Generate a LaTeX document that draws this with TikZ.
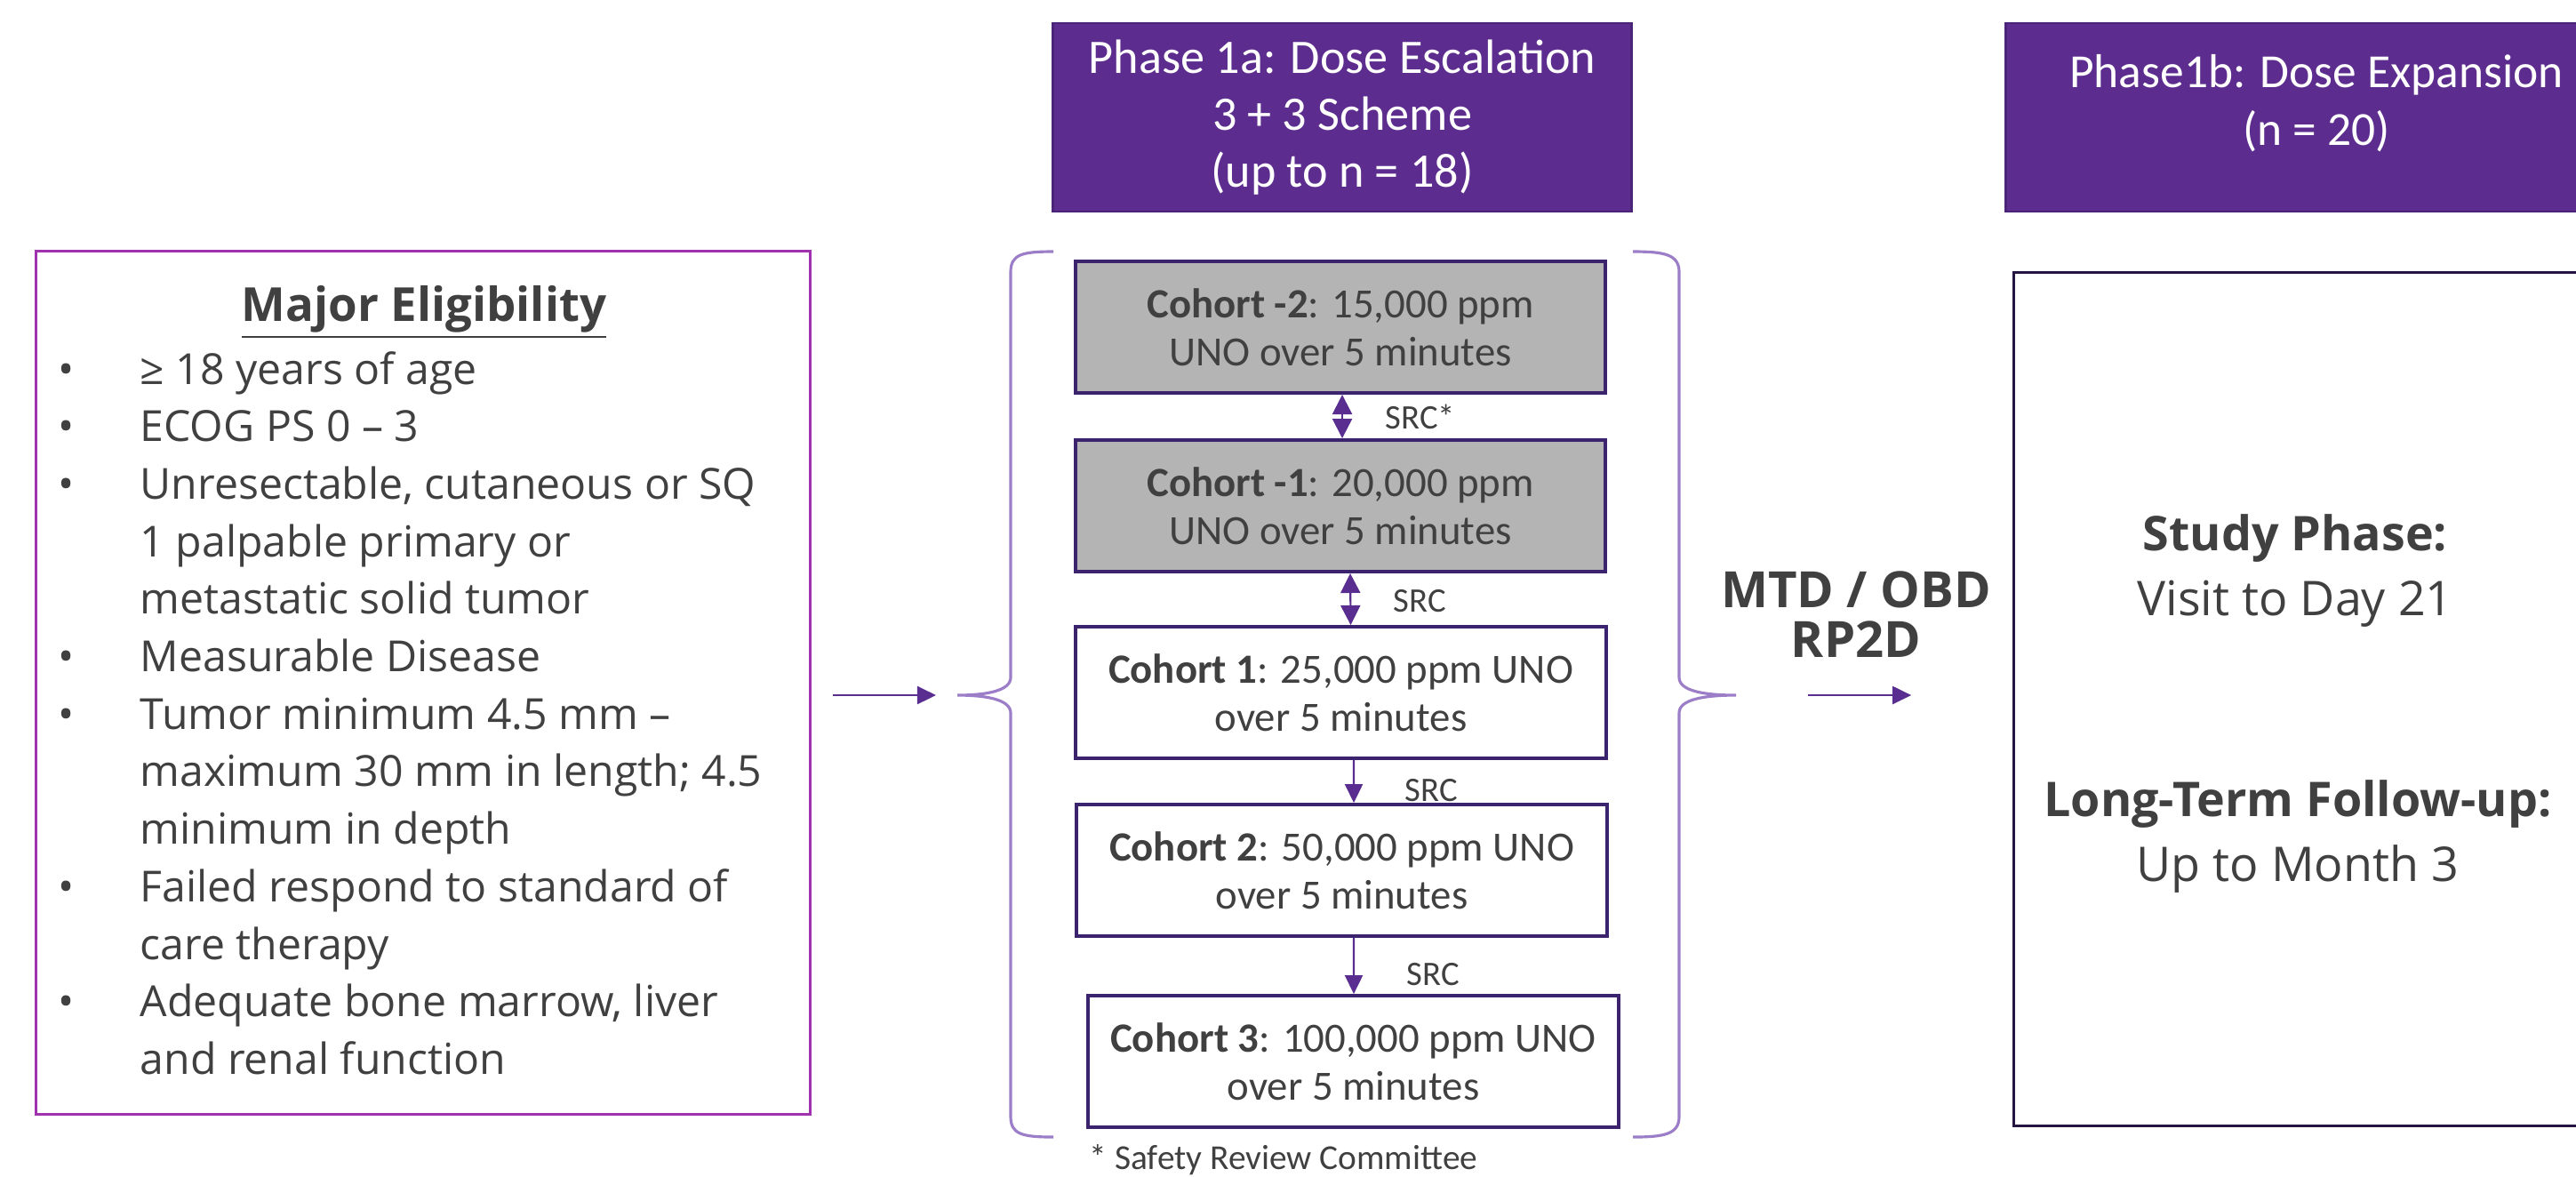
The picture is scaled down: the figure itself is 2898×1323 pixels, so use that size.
\documentclass[tikz,border=0pt]{standalone}
\usepackage{fontspec}
\setmainfont{Carlito}
\newfontfamily\osans{Open Sans}
\usepackage{tikz}
\usetikzlibrary{arrows.meta,positioning}
\definecolor{phpur}{RGB}{92,45,142}
\definecolor{phline}{RGB}{75,35,120}
\definecolor{coline}{RGB}{60,35,110}
\definecolor{eligline}{RGB}{160,50,175}
\definecolor{bracecol}{RGB}{155,125,200}
\definecolor{arrcol}{RGB}{90,45,145}
\definecolor{rbline}{RGB}{36,22,64}
\definecolor{ink}{RGB}{64,64,64}
\definecolor{cgray}{RGB}{180,180,180}
\newcommand{\bul}{\makebox[0.92cm][l]{•}}
\newcommand{\ind}{\hspace*{0.92cm}}
\tikzset{
  phase/.style={draw=phline,line width=0.8pt,fill=phpur,text=white,inner sep=0pt,
    minimum height=2.12cm,font=\fontsize{15.4pt}{18.3pt}\selectfont,align=center},
  phtxt/.style={text=white,inner sep=0pt,font=\fontsize{15.2pt}{18.5pt}\selectfont,align=center},
  cohort/.style={draw=coline,line width=1.1pt,minimum width=5.96cm,minimum height=1.48cm,
    inner sep=0pt,align=center,text=ink,font=\fontsize{13.3pt}{15.3pt}\selectfont},
  shaded/.style={cohort,fill=cgray},
  src/.style={text=ink,anchor=west,inner sep=0pt,font=\fontsize{11pt}{13pt}\selectfont},
  arr/.style={-{Triangle[length=0.21cm,width=0.2cm]},line width=0.6pt,arrcol},
  dbl/.style={{Triangle[length=0.22cm,width=0.22cm]}-{Triangle[length=0.22cm,width=0.22cm]},
    line width=0.6pt,arrcol},
  brace/.style={draw=bracecol,line width=0.9pt},
  elig/.style={text=ink,inner sep=0pt,anchor=base west,font=\osans\fontsize{13.7pt}{16pt}\selectfont},
  big/.style={text=ink,inner sep=0pt,align=center,font=\osans\fontsize{15.3pt}{21pt}\selectfont},
}
\begin{document}
\begin{tikzpicture}[x=0.01cm,y=-0.01cm]
  \useasboundingbox (0,0) rectangle (2898,1323);
  \clip (0,0) rectangle (2898,1323);

  % eligibility
  \node[draw=eligline,line width=0.9pt,minimum width=8.70cm,minimum height=9.70cm] (elig) at (476,768) {};
  \node[text=ink,font=\osans\bfseries\fontsize{15pt}{18pt}\selectfont] (eltitle) at (477,351)
    {\underline{Major Eligibility}};
  \foreach \txt [count=\i from 0] in {
    {\bul≥ 18 years of age},
    {\bul ECOG PS 0 – 3},
    {\bul Unresectable, cutaneous or SQ},
    {\ind 1 palpable primary or},
    {\ind metastatic solid tumor},
    {\bul Measurable Disease},
    {\bul Tumor minimum 4.5 mm –},
    {\ind maximum 30 mm in length; 4.5},
    {\ind minimum in depth},
    {\bul Failed respond to standard of},
    {\ind care therapy},
    {\bul Adequate bone marrow, liver},
    {\ind and renal function}} {
    \node[elig] (el\i) at (65,432+64.7*\i) {\txt};
  }

  % phase headers
  \node[phase,minimum width=6.50cm] (pha) at (1510,132)
    {Phase 1a: Dose Escalation\\3 + 3 Scheme\\(up to n = 18)};
  \node[phase,minimum width=6.98cm] (phb) at (2606,132) {};
  \node[phtxt] (phbt) at (2606,116) {Phase1b: Dose Expansion\\(n = 20)};

  % cohorts
  \node[shaded] (cm2) at (1508,368) {\textbf{Cohort -2}: 15,000 ppm\\UNO over 5 minutes};
  \node[shaded] (cm1) at (1508,569) {\textbf{Cohort -1}: 20,000 ppm\\UNO over 5 minutes};
  \node[cohort] (c1) at (1508.5,779) {\textbf{Cohort 1}: 25,000 ppm UNO\\over 5 minutes};
  \node[cohort] (c2) at (1509.5,979) {\textbf{Cohort 2}: 50,000 ppm UNO\\over 5 minutes};
  \node[cohort] (c3) at (1522.5,1194) {\textbf{Cohort 3}: 100,000 ppm UNO\\over 5 minutes};

  \draw[dbl] ([xshift=0.02cm]cm2.south) -- ([xshift=0.02cm]cm1.north);
  \draw[dbl] ([xshift=0.11cm]cm1.south) -- ([xshift=0.11cm]c1.north);
  \draw[arr] ([xshift=0.145cm]c1.south) -- ([xshift=0.135cm]c2.north);
  \draw[arr] ([xshift=0.135cm]c2.south) -- ([xshift=0.005cm]c3.north);
  \node[src] (s1) at (1558,469) {SRC*};
  \node[src] (s2) at (1567,676) {SRC};
  \node[src] (s3) at (1580,889) {SRC};
  \node[src] (s4) at (1582,1096) {SRC};
  \node[text=ink,anchor=west,inner sep=0pt,font=\fontsize{11.2pt}{13pt}\selectfont] (foot)
    at (1225,1305) {* Safety Review Committee};

  % braces
  \coordinate (lbt) at (1077,782);
  \coordinate (rbt) at (1953,782);
  \draw[brace] (1185,283) .. controls (1150,283) and (1137,286) .. (1137,306)
    -- (1137,762) .. controls (1137,777) and (1110,782) .. (lbt)
    .. controls (1110,782) and (1137,787) .. (1137,802)
    -- (1137,1256) .. controls (1137,1276) and (1150,1279) .. (1185,1279);
  \draw[brace] (1837,283) .. controls (1872,283) and (1889,286) .. (1889,306)
    -- (1889,762) .. controls (1889,777) and (1916,782) .. (rbt)
    .. controls (1916,782) and (1889,787) .. (1889,802)
    -- (1889,1256) .. controls (1889,1276) and (1872,1279) .. (1837,1279);

  % expansion
  \node[draw=rbline,line width=0.9pt,minimum width=6.84cm,minimum height=9.59cm] (rb) at (2608,786.5) {};
  \node[big] (study) at (2582,642) {\textbf{Study Phase:}\\Visit to Day 21};
  \node[big] (follow) at (2585,941) {\textbf{Long-Term Follow-up:}\\Up to Month 3};
  \node[text=ink,align=center,inner sep=0pt,font=\osans\bfseries\fontsize{16pt}{15.8pt}\selectfont]
    (mtd) at (2088,691) {MTD / OBD\\RP2D};

  \draw[arr] (elig.east |- lbt) -- (lbt) [shorten <=0.24cm,shorten >=0.24cm];
  \draw[arr,shorten <=0.81cm,shorten >=1.14cm] (rbt) -- (rb.west |- rbt);
\end{tikzpicture}
\end{document}
